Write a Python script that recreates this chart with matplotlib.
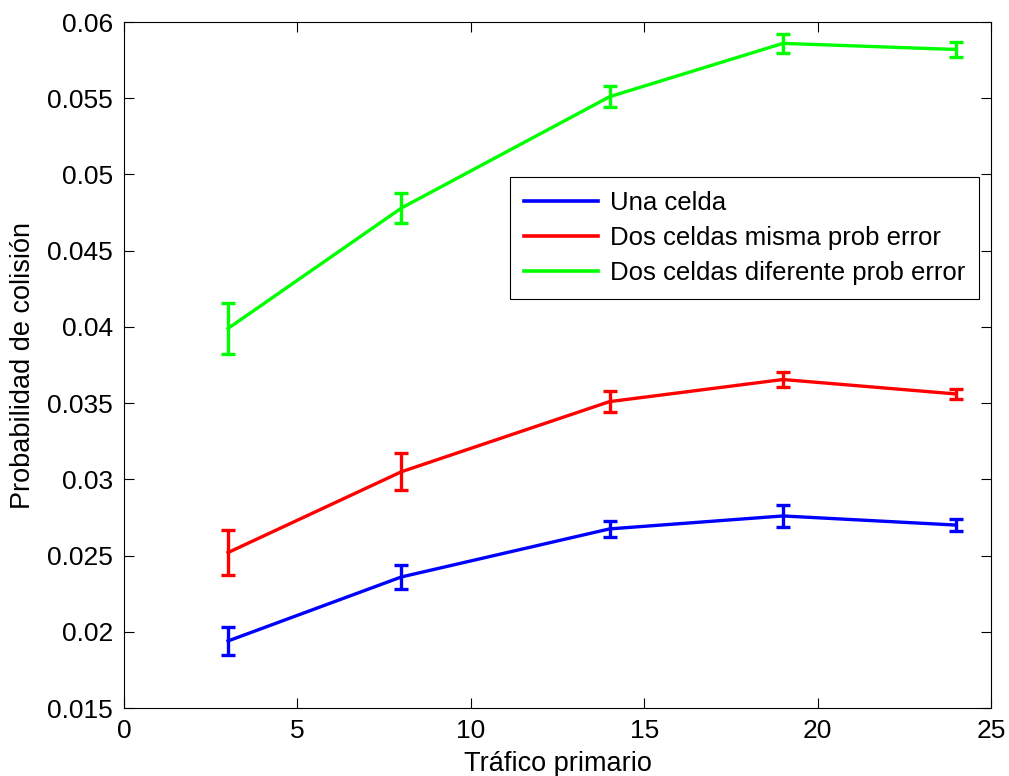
import matplotlib
matplotlib.use("Agg")
import matplotlib.pyplot as plt
from matplotlib.lines import Line2D
from matplotlib.ticker import FuncFormatter

plt.rcParams['font.family'] = ['Liberation Sans', 'DejaVu Sans']

# datos
trafico = [3, 8, 14, 19, 24]

una_celda = [0.0194, 0.0236, 0.02675, 0.0276, 0.0270]
una_celda_err = [0.0009, 0.0008, 0.00055, 0.0007, 0.0004]

misma_prob = [0.0252, 0.0305, 0.0351, 0.03655, 0.0356]
misma_prob_err = [0.0015, 0.0012, 0.0007, 0.0005, 0.0003]

diferente_prob = [0.0399, 0.0478, 0.0551, 0.0586, 0.0582]
diferente_prob_err = [0.0017, 0.0010, 0.0007, 0.0006, 0.0005]

etiquetas = ['Una celda', 'Dos celdas misma prob error', 'Dos celdas diferente prob error']
colores = ['#0000ff', '#ff0000', '#00ff00']

xticks = [0, 5, 10, 15, 20, 25]
yticks = [0.015, 0.02, 0.025, 0.03, 0.035, 0.04, 0.045, 0.05, 0.055, 0.06]

fig = plt.figure(figsize=(10.09, 7.76), dpi=100)
ax = fig.add_axes([0.1229, 0.0876, 0.8593, 0.884])

series = [(una_celda, una_celda_err), (misma_prob, misma_prob_err), (diferente_prob, diferente_prob_err)]
for (vals, errs), col in zip(series, colores):
    ax.errorbar(trafico, vals, yerr=errs, color=col, lw=2.4, elinewidth=2.4,
                capsize=5, capthick=2.4)

ax.set_xlim(0, 25)
ax.set_ylim(0.015, 0.06)
ax.set_xticks(xticks)
ax.set_yticks(yticks)
ax.yaxis.set_major_formatter(FuncFormatter(lambda v, p: '%g' % v))
ax.tick_params(direction='in', top=True, right=True, labelsize=19, length=7, pad=8)
for s in ax.spines.values():
    s.set_linewidth(0.8)

ax.set_xlabel('Tráfico primario', fontsize=19.5, labelpad=6)
ax.set_ylabel('Probabilidad de colisión', fontsize=19.5, labelpad=8)

handles = [Line2D([], [], color=c, lw=2.6) for c in colores]
leg = ax.legend(handles, etiquetas, loc='upper left', bbox_to_anchor=(0.445, 0.774), fontsize=18.5,
                fancybox=False, edgecolor='black', framealpha=1, handlelength=2.9,
                borderpad=0.55, labelspacing=0.42, handletextpad=0.45, borderaxespad=0)
leg.get_frame().set_linewidth(0.8)

fig.savefig('out.png', dpi=100)
